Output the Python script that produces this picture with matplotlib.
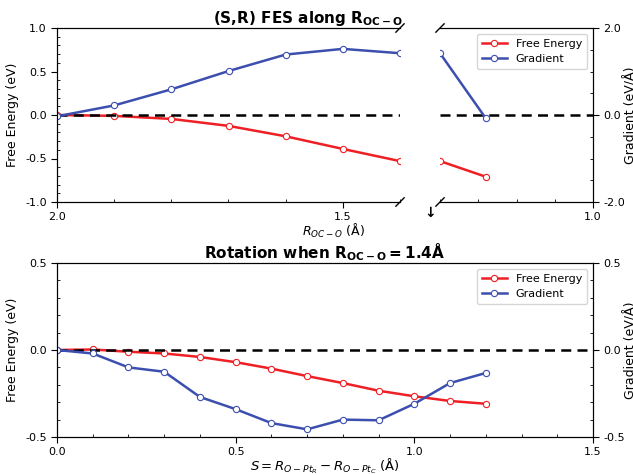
import matplotlib
matplotlib.use("Agg")
import matplotlib.pyplot as plt
from matplotlib.ticker import MultipleLocator, FormatStrFormatter

# top: FES along R(OC-O), broken x axis
r_left = [2.0, 1.9, 1.8, 1.7, 1.6, 1.5, 1.4]
fe_left = [0.0, -0.01, -0.045, -0.125, -0.245, -0.39, -0.53]
grad_left = [-0.03, 0.22, 0.59, 1.01, 1.39, 1.52, 1.42]
r_right = [1.4, 1.28]
fe_right = [-0.53, -0.71]
grad_right = [1.42, -0.08]

# bottom: rotation at R(OC-O) = 1.4
s_rot = [0.0, 0.1, 0.2, 0.3, 0.4, 0.5, 0.6, 0.7, 0.8, 0.9, 1.0, 1.1, 1.2]
fe_rot = [0.0, 0.003, -0.01, -0.02, -0.04, -0.07, -0.107, -0.15, -0.19,
          -0.234, -0.266, -0.293, -0.309]
grad_rot = [0.0, -0.02, -0.10, -0.125, -0.27, -0.34, -0.42, -0.456, -0.40,
            -0.404, -0.309, -0.19, -0.132]

C_FE = "#ee1f25"
C_GR = "#3c4fae"
FS = 8

plt.rcParams.update({
    "font.size": FS,
    "xtick.labelsize": FS,
    "ytick.labelsize": FS,
    "xtick.major.size": 4,
    "ytick.major.size": 4,
    "xtick.minor.size": 2.5,
    "ytick.minor.size": 2.5,
    "xtick.minor.visible": True,
    "ytick.minor.visible": True,
    "axes.unicode_minus": False,
})

LINE = dict(linewidth=1.8, marker="o", markersize=4.5,
            markerfacecolor="white", markeredgewidth=0.8)

W, H = 633, 475
fig = plt.figure(figsize=(W / 100, H / 100), dpi=100)


def box(x0, x1, y0, y1):
    return [x0 / W, 1 - y1 / H, (x1 - x0) / W, (y1 - y0) / H]


def style_ticks(ax, major, minor):
    ax.yaxis.set_major_locator(MultipleLocator(major))
    ax.yaxis.set_minor_locator(MultipleLocator(minor))
    ax.yaxis.set_major_formatter(FormatStrFormatter("%.1f"))
    ax.xaxis.set_major_formatter(FormatStrFormatter("%.1f"))
    ax.tick_params(which="minor", direction="in")


# ---------------------------------------------------------------- top
axl = fig.add_axes(box(57, 400, 28, 202))
axr = fig.add_axes(box(440, 593, 28, 202))
axl2 = axl.twinx()
axr2 = axr.twinx()

axl.plot(r_left, fe_left, color=C_FE, label="Free Energy", **LINE)
axl2.plot(r_left, grad_left, color=C_GR, **LINE)
lf, = axr.plot(r_right, fe_right, color=C_FE, label="Free Energy", **LINE)
lg, = axr2.plot(r_right, grad_right, color=C_GR, label="Gradient", **LINE)
for ax in (axl, axr):
    ax.axhline(0, color="black", linestyle="--", linewidth=1.8, dashes=(4, 2.5))

axl.set_xlim(2.0, 1.4)
axr.set_xlim(1.4, 1.0)
for ax in (axl, axr, axl2, axr2):
    ax.xaxis.set_major_locator(MultipleLocator(0.5))
    ax.xaxis.set_minor_locator(MultipleLocator(0.1))
for ax in (axl, axr):
    ax.set_ylim(-1, 1)
    style_ticks(ax, 0.5, 0.1)
for ax in (axl2, axr2):
    ax.set_ylim(-2, 2)
    style_ticks(ax, 2.0, 0.5)

axl.spines["right"].set_visible(False)
axl2.spines["right"].set_visible(False)
axl2.tick_params(axis="y", which="both", right=False, labelright=False)
axr.spines["left"].set_visible(False)
axr2.spines["left"].set_visible(False)
axr.tick_params(axis="y", which="both", left=False, labelleft=False)
axl.set_ylabel("Free Energy (eV)", fontsize=9)
axr2.set_ylabel("Gradient (eV/Å)", fontsize=9)
axr2.yaxis.set_label_coords((624 - 440) / 153, 0.5)

# break marks
d = 0.012
kw = dict(color="black", clip_on=False, linewidth=1.0)
axl.plot((1 - d, 1 + d), (-d * 2, d * 2), transform=axl.transAxes, **kw)
axl.plot((1 - d, 1 + d), (1 - d * 2, 1 + d * 2), transform=axl.transAxes, **kw)
dr = d * 343 / 153
axr.plot((-dr, dr), (-d * 2, d * 2), transform=axr.transAxes, **kw)
axr.plot((-dr, dr), (1 - d * 2, 1 + d * 2), transform=axr.transAxes, **kw)

axr.legend(handles=[lf, lg], loc="upper right", fontsize=FS,
           handlelength=2.2, borderpad=0.5, labelspacing=0.4)

fig.text(308 / W, 1 - 18 / H, r"(S,R) FES along $\mathbf{R_{OC-O}}$",
         ha="center", va="center", fontsize=11, fontweight="bold")
fig.text(333 / W, 1 - 231 / H, r"$R_{OC-O}$ (Å)", ha="center", va="center",
         fontsize=9)
fig.text(430 / W, 1 - 213 / H, "↓", ha="center", va="center", fontsize=10,
         fontweight="bold")

# ---------------------------------------------------------------- bottom
axb = fig.add_axes(box(57, 593, 263, 437))
axb2 = axb.twinx()
axb.plot(s_rot, fe_rot, color=C_FE, **LINE)
axb2.plot(s_rot, grad_rot, color=C_GR, **LINE)
axb.axhline(0, color="black", linestyle="--", linewidth=1.8, dashes=(4, 2.5))
axb.set_xlim(0, 1.5)
axb.xaxis.set_major_locator(MultipleLocator(0.5))
axb.xaxis.set_minor_locator(MultipleLocator(0.1))
for ax in (axb, axb2):
    ax.set_ylim(-0.5, 0.5)
    style_ticks(ax, 0.5, 0.1)
axb.set_ylabel("Free Energy (eV)", fontsize=9)
axb2.set_ylabel("Gradient (eV/Å)", fontsize=9)
axb2.yaxis.set_label_coords((624 - 57) / 536, 0.5)
axb.set_xlabel(r"$S = R_{O-Pt_R} - R_{O-Pt_C}$ (Å)", fontsize=9.5, labelpad=-1)
axb.set_title(r"Rotation when $\mathbf{R_{OC-O} = 1.4\AA}$",
              fontsize=11, fontweight="bold", pad=3)
hb = [axb.get_lines()[0], axb2.get_lines()[0]]
axb.legend(hb, ["Free Energy", "Gradient"], loc="upper right", fontsize=FS,
           handlelength=2.2, borderpad=0.5, labelspacing=0.4)

fig.savefig("out.png", dpi=100)
